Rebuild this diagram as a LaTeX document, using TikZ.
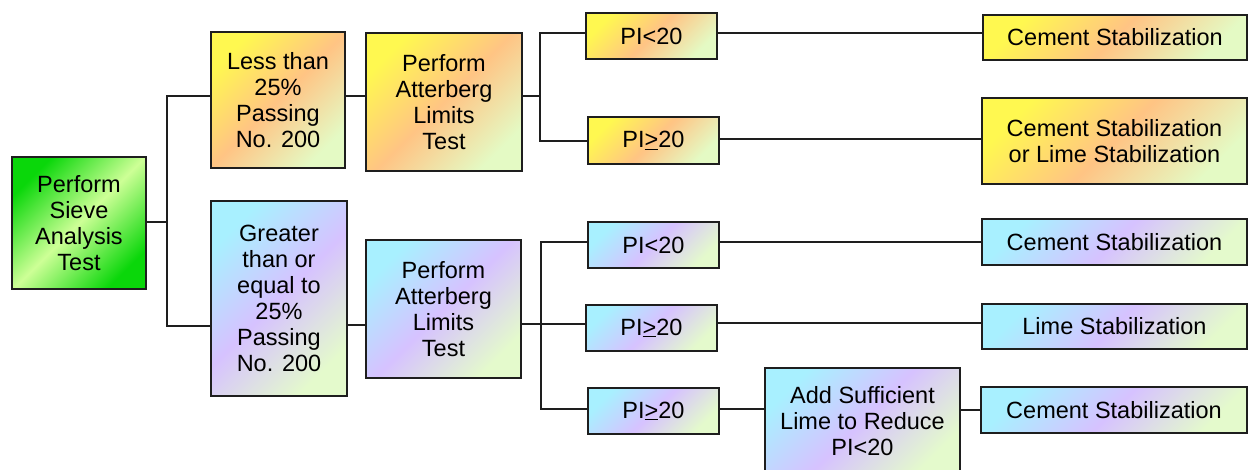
\documentclass[tikz,border=0pt]{standalone}
\usepackage{fontspec}
\setmainfont{Liberation Sans}
\usetikzlibrary{positioning}

\definecolor{leafgreen}{RGB}{10,215,10}
\definecolor{palegreen}{RGB}{205,255,150}
\definecolor{warmyellow}{RGB}{255,248,80}
\definecolor{warmorange}{RGB}{255,196,132}
\definecolor{warmpale}{RGB}{228,250,196}
\definecolor{coolcyan}{RGB}{168,240,255}
\definecolor{coollav}{RGB}{214,194,255}
\definecolor{coolpale}{RGB}{228,250,204}
\definecolor{edgegray}{RGB}{30,30,30}

\pgfdeclarehorizontalshading{sieveshade}{100bp}{color(0bp)=(leafgreen); color(25bp)=(leafgreen); color(50bp)=(palegreen); color(75bp)=(leafgreen); color(100bp)=(leafgreen)}
\pgfdeclarehorizontalshading{warmshade}{100bp}{color(0bp)=(warmyellow); color(25bp)=(warmyellow); color(50bp)=(warmorange); color(75bp)=(warmpale); color(100bp)=(warmpale)}
\pgfdeclarehorizontalshading{coolshade}{100bp}{color(0bp)=(coolcyan); color(25bp)=(coolcyan); color(50bp)=(coollav); color(75bp)=(coolpale); color(100bp)=(coolpale)}

\tikzset{
  box/.style={draw=edgegray, line width=2.4pt, align=center, inner sep=1pt, shading angle=-45},
  sievebox/.style={box, shading=sieveshade},
  warmbox/.style={box, shading=warmshade},
  coolbox/.style={box, shading=coolshade},
  link/.style={draw=edgegray, line width=2.6pt},
}

\begin{document}
\begin{tikzpicture}[x=1pt, y=-1pt, font=\fontsize{23.5}{26}\selectfont]
  \clip (0,0) rectangle (1248,470);
  \fill[white] (0,0) rectangle (1248,470);
  % Sieve analysis
  \node[sievebox, minimum width=134pt, minimum height=132pt] (sieve) at (79,223)
    {Perform\\Sieve\\Analysis\\Test};
  % Fines content
  \node[warmbox, minimum width=134pt, minimum height=136pt] (less) at (278,100)
    {Less than\\25\%\\Passing\\No. 200};
  \node[coolbox, minimum width=136pt, minimum height=195pt] (greater) at (279,298.5)
    {Greater\\than or\\equal to\\25\%\\Passing\\No. 200};
  % Atterberg limits
  \node[warmbox, minimum width=156pt, minimum height=138pt] (attA) at (444,102)
    {Perform\\Atterberg\\Limits\\Test};
  \node[coolbox, minimum width=155pt, minimum height=138pt] (attB) at (443.5,309)
    {Perform\\Atterberg\\Limits\\Test};
  % Plasticity index
  \node[warmbox, minimum width=131pt, minimum height=46pt] (piA) at (651.5,36) {PI<20};
  \node[warmbox, minimum width=131pt, minimum height=47pt] (piB) at (653.5,140.5) {PI\underline{>}20};
  \node[coolbox, minimum width=131pt, minimum height=46pt] (piC) at (653.5,245) {PI<20};
  \node[coolbox, minimum width=131pt, minimum height=46pt] (piD) at (651.5,328) {PI\underline{>}20};
  \node[coolbox, minimum width=131pt, minimum height=46pt] (piE) at (653.5,411) {PI\underline{>}20};
  \node[coolbox, minimum width=195pt, minimum height=106pt] (lime) at (862.5,421)
    {Add Sufficient\\Lime to Reduce\\PI<20};
  % Stabilization
  \node[warmbox, minimum width=264pt, minimum height=45pt] (stabA) at (1115,37.5) {Cement Stabilization};
  \node[warmbox, minimum width=265pt, minimum height=86pt] (stabB) at (1114.5,141)
    {Cement Stabilization\\or Lime Stabilization};
  \node[coolbox, minimum width=265pt, minimum height=46pt] (stabC) at (1114.5,242) {Cement Stabilization};
  \node[coolbox, minimum width=265pt, minimum height=45pt] (stabD) at (1114.5,326.5) {Lime Stabilization};
  \node[coolbox, minimum width=266pt, minimum height=46pt] (stabE) at (1114,410) {Cement Stabilization};
  % Branch points
  \coordinate (forkS) at (167,222);
  \coordinate (forkA) at (540,96);
  \coordinate (forkB) at (541,324);
  % Connectors
  \draw[link] (sieve.east |- forkS) -- (forkS);
  \draw[link] (less.west |- 0,96) -| (forkS) |- (greater.west |- 0,326);
  \draw[link] (less.east |- 0,96) -- (attA.west |- 0,96);
  \draw[link] (greater.east |- 0,325) -- (attB.west |- 0,325);
  \draw[link] (attA.east |- forkA) -- (forkA);
  \draw[link] (piA.west |- 0,33) -| (forkA) |- (piB.west |- 0,141);
  \draw[link] (attB.east |- forkB) -- (piD.west |- forkB);
  \draw[link] (piC.west |- 0,242) -| (forkB) |- (piE.west |- 0,409);
  \draw[link] (piA.east |- 0,33) -- (stabA.west |- 0,33);
  \draw[link] (piB.east |- 0,139) -- (stabB.west |- 0,139);
  \draw[link] (piC.east |- 0,242) -- (stabC.west |- 0,242);
  \draw[link] (piD.east |- 0,323) -- (stabD.west |- 0,323);
  \draw[link] (piE.east |- 0,409) -- (lime.west |- 0,409);
  \draw[link] (lime.east |- 0,410) -- (stabE.west |- 0,410);
\end{tikzpicture}
\end{document}
